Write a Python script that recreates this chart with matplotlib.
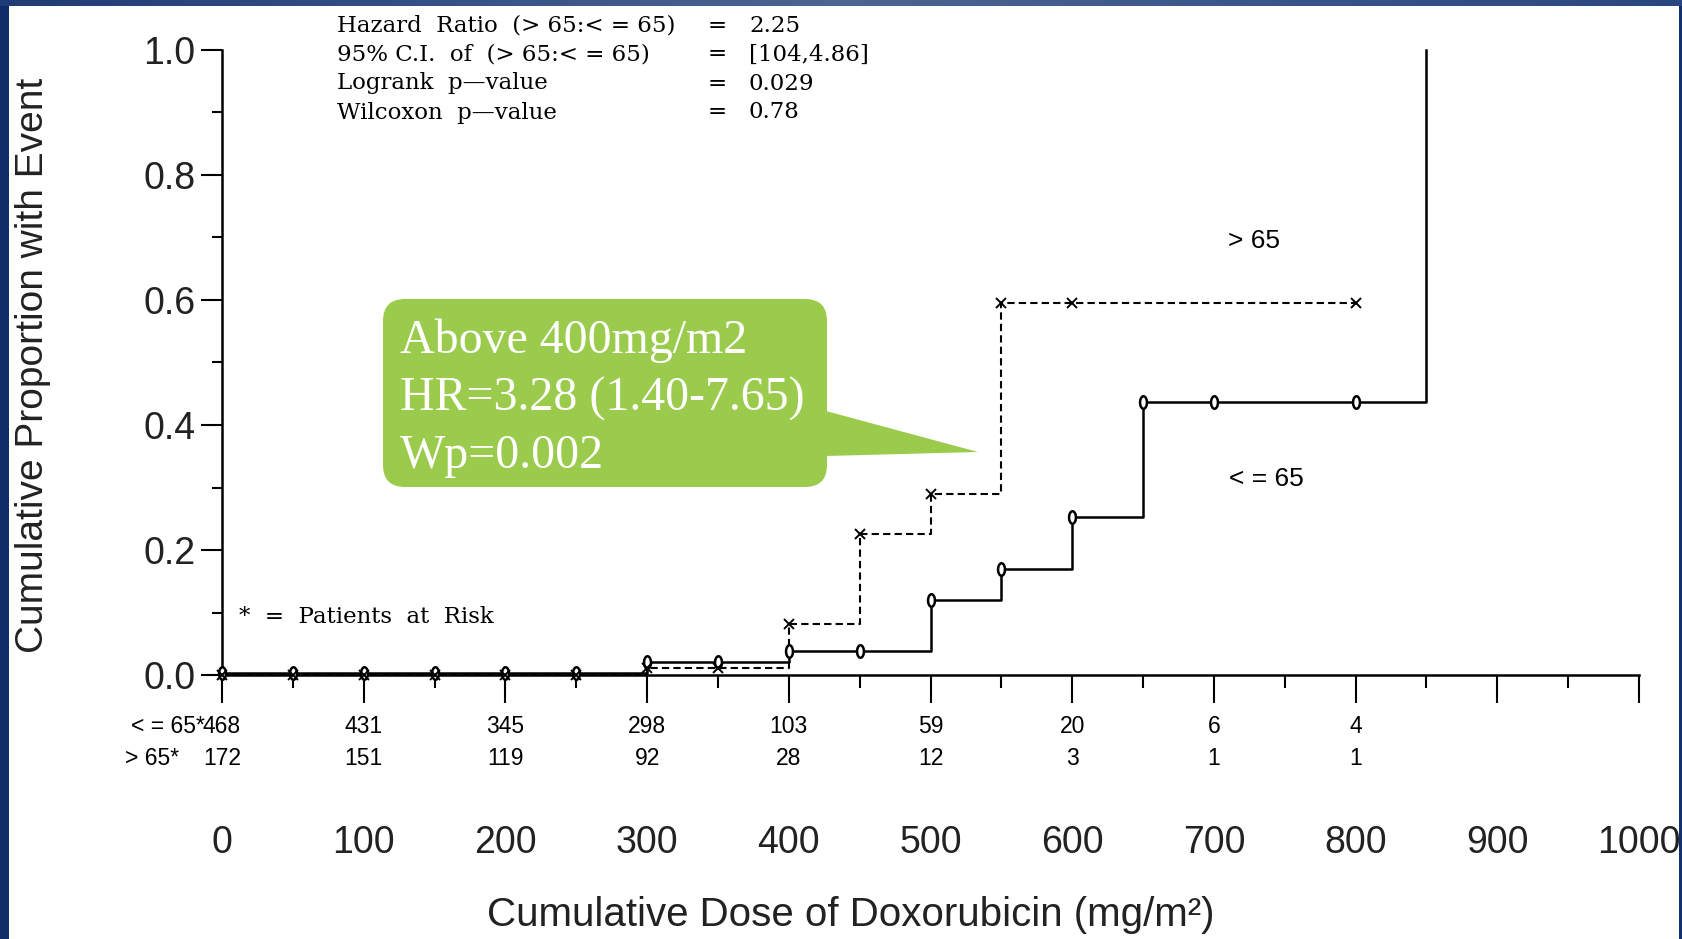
import numpy as np
import matplotlib
matplotlib.use("Agg")
import matplotlib.pyplot as plt
from matplotlib.patches import FancyBboxPatch, Polygon, Rectangle
from matplotlib.colors import LinearSegmentedColormap

# step curves
le65_dose = [0, 300, 400, 500, 550, 600, 650, 850]
le65_prop = [0.003, 0.021, 0.039, 0.12, 0.17, 0.253, 0.437, 1.0]
gt65_dose = [0, 300, 400, 450, 500, 550, 800]
gt65_prop = [0.0, 0.012, 0.082, 0.226, 0.29, 0.595, 0.595]

# censoring marks
le65_cens_dose = [0, 50, 100, 150, 200, 250, 300, 350, 400, 450, 500, 550, 600, 650, 700, 800]
le65_cens_prop = [0.003, 0.003, 0.003, 0.003, 0.003, 0.003, 0.021, 0.021, 0.039, 0.039,
                  0.12, 0.17, 0.253, 0.437, 0.437, 0.437]
gt65_cens_dose = [0, 50, 100, 150, 200, 250, 300, 350, 400, 450, 500, 550, 600, 800]
gt65_cens_prop = [0.0, 0.0, 0.0, 0.0, 0.0, 0.0, 0.012, 0.012, 0.082, 0.226, 0.29, 0.595, 0.595, 0.595]

# patients at risk
risk_dose = [0, 100, 200, 300, 400, 500, 600, 700, 800]
risk_le65 = [468, 431, 345, 298, 103, 59, 20, 6, 4]
risk_gt65 = [172, 151, 119, 92, 28, 12, 3, 1, 1]

stats_labels = ["Hazard  Ratio  (> 65:< = 65)", "95% C.I.  of  (> 65:< = 65)",
                "Logrank  p\u2014value", "Wilcoxon  p\u2014value"]
stats_values = ["2.25", "[104,4.86]", "0.029", "0.78"]

callout_lines = ["Above 400mg/m2", "HR=3.28 (1.40-7.65)", "Wp=0.002"]

sans = ["Liberation Sans Narrow", "Liberation Sans", "DejaVu Sans"]
plt.rcParams["font.family"] = sans
small = ["Liberation Sans", "DejaVu Sans"]

W, H = 1682, 939
fig = plt.figure(figsize=(W / 100, H / 100), dpi=100)
fig.patch.set_facecolor("white")

ax = fig.add_axes([222 / W, 1 - 675 / H, (1639 - 222) / W, (675 - 50) / H])
ax.set_xlim(0, 1000)
ax.set_ylim(0, 1.0)
ax.patch.set_alpha(0)
for s in ["top", "right"]:
    ax.spines[s].set_visible(False)
for s in ["left", "bottom"]:
    ax.spines[s].set_linewidth(1.8)

ax.step(le65_dose, le65_prop, where="post", color="black", lw=1.8, clip_on=False)
ax.step(gt65_dose, gt65_prop, where="post", color="black", lw=1.5,
        ls=(0, (3.5, 2)), clip_on=False)

t = np.linspace(0, 2 * np.pi, 40)
oval = list(zip(0.55 * np.cos(t), np.sin(t)))
ax.plot(le65_cens_dose, le65_cens_prop, ls="none", marker=oval, ms=9,
        mfc="white", mec="black", mew=1.8, clip_on=False, zorder=4)
ax.plot(gt65_cens_dose, gt65_cens_prop, ls="none", marker="x", ms=7,
        color="black", mew=1.4, clip_on=False, zorder=4)

ax.set_xticks(np.arange(0, 1001, 100))
ax.set_xticks(np.arange(50, 1000, 100), minor=True)
ax.set_yticks(np.arange(0, 1.01, 0.2))
ax.set_yticks(np.arange(0.1, 1.0, 0.2), minor=True)
ax.set_yticklabels([f"{v:.1f}" for v in np.arange(0, 1.01, 0.2)])
ax.tick_params(axis="x", which="major", length=20, width=1.5, pad=88, labelsize=27)
ax.tick_params(axis="x", which="minor", length=9, width=1.5)
ax.tick_params(axis="y", which="major", length=15, width=1.5, pad=4, labelsize=27)
ax.tick_params(axis="y", which="minor", length=7, width=1.5)
for lab in ax.get_xticklabels() + ax.get_yticklabels():
    lab.set_color("#222222")

# at-risk table
for d, n1, n2 in zip(risk_dose, risk_le65, risk_gt65):
    ax.text(d, -0.083, str(n1), ha="center", va="center", fontsize=16.5,
            family=small, clip_on=False)
    ax.text(d, -0.133, str(n2), ha="center", va="center", fontsize=16.5,
            family=small, clip_on=False)
ax.text(-12, -0.083, "< = 65*", ha="right", va="center", fontsize=16.5,
        family=small, clip_on=False)
ax.text(-30, -0.133, "> 65*", ha="right", va="center", fontsize=16.5,
        family=small, clip_on=False)

ax.text(710, 0.695, "> 65", ha="left", va="center", fontsize=19, family=small)
ax.text(711, 0.313, "< = 65", ha="left", va="center", fontsize=19, family=small)
ax.text(12, 0.093, "*  =  Patients  at  Risk", ha="left", va="center", fontsize=16.5,
        family=["DejaVu Serif"])

# stats block
for i, (lab, val) in enumerate(zip(stats_labels, stats_values)):
    y = 1 - (25.5 + 29 * i) / H
    fig.text(337 / W, y, lab, ha="left", va="center", fontsize=16.5, family=["DejaVu Serif"])
    fig.text(717 / W, y, "=", ha="center", va="center", fontsize=16.5, family=["DejaVu Serif"])
    fig.text(749 / W, y, val, ha="left", va="center", fontsize=16.5, family=["DejaVu Serif"])

fig.text(33 / W, 1 - 365 / H, "Cumulative Proportion with Event", rotation=90,
         ha="center", va="center", fontsize=28, color="#222222")
fig.text(851 / W, 1 - 915 / H, "Cumulative Dose of Doxorubicin (mg/m\u00b2)",
         ha="center", va="center", fontsize=29, color="#222222")

# slide decoration and callout in pixel space
ov = fig.add_axes([0, 0, 1, 1], zorder=5)
ov.set_xlim(0, W)
ov.set_ylim(H, 0)
ov.axis("off")
ov.patch.set_alpha(0)

ov.add_patch(Rectangle((0, 0), 9, H, color="#0e2c68", lw=0))
ov.add_patch(Rectangle((W - 3, 0), 3, H, color="#12306c", lw=0))
top_cmap = LinearSegmentedColormap.from_list("top", ["#1f3b78", "#4d6494", "#2a4682"])
ov.imshow(np.linspace(0, 1, 256)[None, :], cmap=top_cmap, aspect="auto",
          extent=(0, W, 6.5, 0), zorder=3)

green = "#9bcb4c"
ov.add_patch(FancyBboxPatch((383 + 22, 299 + 22), 444 - 44, 188 - 44,
                            boxstyle="round,pad=22", fc=green, ec="none"))
ov.add_patch(Polygon([(826, 411), (978, 452), (826, 456)], closed=True, fc=green, ec="none"))
for i, line in enumerate(callout_lines):
    ov.text(400, 341 + 57.5 * i, line, ha="left", va="center", fontsize=34.5,
            color="white", family=["Liberation Serif", "DejaVu Serif"])

fig.savefig("out.png", dpi=100)
